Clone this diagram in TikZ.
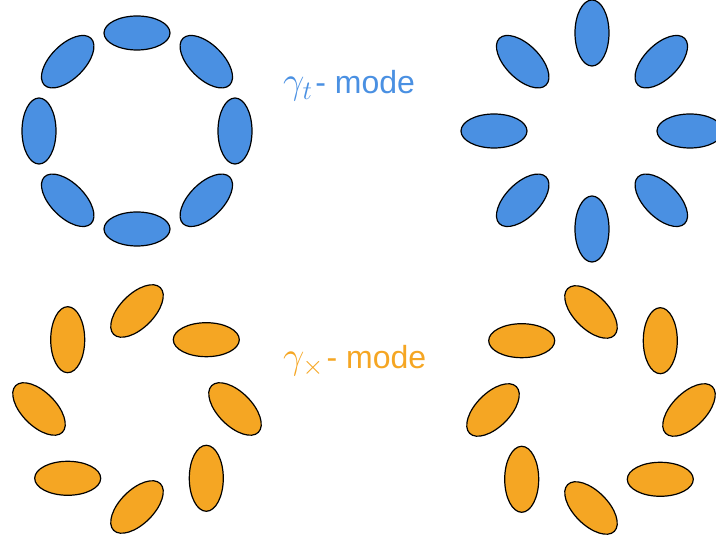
\RequirePackage{fix-cm}
\documentclass[tikz,border=0pt]{standalone}
\usepackage{amsmath}
\usepackage{fontspec}
\setmainfont{Liberation Sans}
\usepackage{xcolor}
\definecolor{modeblue}{HTML}{4A90E2}
\definecolor{modeorange}{HTML}{F5A623}

\begin{document}
\begin{tikzpicture}[x=1pt,y=1pt,
  blob/.style={draw=black,line width=1.2pt},
  modelabel/.style={anchor=base west,inner sep=0pt,font=\fontsize{32}{36}\selectfont}]
\useasboundingbox (0,0) rectangle (716,537);
\pgfmathsetmacro{\R}{98}\pgfmathsetmacro{\ra}{33}\pgfmathsetmacro{\rb}{17}
% centre x / centre y / tilt of the ellipse against its position angle / colour
\foreach \cx/\cy/\off/\col in {137/406/90/modeblue,592/406/0/modeblue,
                               137/128/-45/modeorange,591/127/45/modeorange}{%
  \foreach \k in {0,...,7}{%
    \pgfmathsetmacro{\ph}{45*\k}%
    \draw[blob,fill=\col,shift={(\cx,\cy)},shift={(\ph:\R)},rotate={\ph+\off}]
      (0,0) ellipse [x radius=\ra,y radius=\rb];}}
\node[modelabel,modeblue] (plus) at (283,443)
  {{\fontsize{38}{40}\selectfont$\gamma_t$}\kern3pt- mode};
\node[modelabel,modeorange] (cross) at (283,168)
  {{\fontsize{38}{40}\selectfont$\gamma_\times$}\kern3pt- mode};
\end{tikzpicture}
\end{document}
